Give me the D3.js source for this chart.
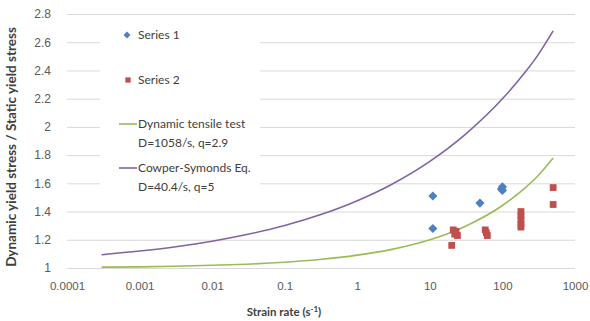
<!DOCTYPE html>
<html>
<head>
<meta charset="utf-8">
<script src="https://cdn.jsdelivr.net/npm/d3@7/dist/d3.min.js"></script>
<style>
  body { margin: 0; background: #fff; }
  svg { font-family: Lato, "Open Sans", sans-serif; }
</style>
</head>
<body>
<svg id="chart" width="590" height="321"></svg>
<script>
// data
const xTicks = [0.0001, 0.001, 0.01, 0.1, 1, 10, 100, 1000];
const xTickLabels = ["0.0001", "0.001", "0.01", "0.1", "1", "10", "100", "1000"];
const yTicks = [1, 1.2, 1.4, 1.6, 1.8, 2, 2.2, 2.4, 2.6, 2.8];

const series1X = [11, 11, 49, 97, 100, 100];
const series1Y = [1.51, 1.28, 1.46, 1.56, 1.575, 1.55];

const series2X = [20, 21, 22, 23, 24, 58, 60, 62, 180, 180, 180, 180, 180, 500, 500];
const series2Y = [1.16, 1.27, 1.24, 1.26, 1.23, 1.27, 1.25, 1.23, 1.40, 1.37, 1.34, 1.31, 1.29, 1.57, 1.45];

const curveX = [0.0003, 0.001, 0.003, 0.01, 0.03, 0.1, 0.3, 1, 3, 10, 30, 100, 200, 300, 500];
const tensileY = [1.006, 1.008, 1.012, 1.019, 1.027, 1.041, 1.06, 1.091, 1.132, 1.2, 1.293, 1.443, 1.563, 1.647, 1.78];
const cowperY = [1.094, 1.12, 1.149, 1.19, 1.237, 1.301, 1.375, 1.477, 1.594, 1.756, 1.942, 2.199, 2.38, 2.5, 2.68];

const colors = { s1: "#4f81bd", s2: "#c0504d", tensile: "#9bbb59", cowper: "#8064a2" };

const svg = d3.select("#chart");
const plotL = 67, plotR = 575, plotT = 14, plotB = 268;

const x = d3.scaleLog().domain([1e-4, 1e3]).range([plotL, plotR]);
const y = d3.scaleLinear().domain([1, 2.8]).range([plotB, plotT]);

// horizontal gridlines + y labels
const yAxis = svg.append("g")
  .attr("transform", `translate(${plotL},0)`)
  .call(d3.axisLeft(y).tickValues(yTicks).tickSize(-(plotR - plotL)).tickPadding(16)
    .tickFormat(d => String(+d.toFixed(1))));
yAxis.select(".domain").remove();
yAxis.selectAll("line").attr("stroke", "#d9d9d9").attr("stroke-width", 1);
yAxis.selectAll("text").attr("fill", "#595959").style("font-size", "12px");

// x labels
const xAxis = svg.append("g")
  .attr("transform", `translate(0,${plotB})`)
  .call(d3.axisBottom(x).tickValues(xTicks).tickSize(0).tickPadding(14)
    .tickFormat((d, i) => xTickLabels[i]));
xAxis.select(".domain").remove();
xAxis.selectAll("text").attr("fill", "#595959").style("font-size", "11.5px");

// axis titles
svg.append("text")
  .attr("x", 284).attr("y", 316)
  .attr("text-anchor", "middle")
  .attr("fill", "#404040")
  .style("font-size", "11.5px").style("font-weight", "bold")
  .html('Strain rate (s<tspan dy="-4" font-size="8px">-1</tspan><tspan dy="4">)</tspan>');

svg.append("text")
  .attr("transform", "translate(16,147) rotate(-90)")
  .attr("text-anchor", "middle")
  .attr("fill", "#404040")
  .style("font-size", "13.5px").style("font-weight", "bold")
  .text("Dynamic yield stress / Static yield stress");

// legend background hides gridlines
svg.append("rect")
  .attr("x", 100).attr("y", 18).attr("width", 160).attr("height", 180)
  .attr("fill", "#fff");

// curves
const line = d3.line()
  .x(d => x(d[0]))
  .y(d => y(d[1]))
  .curve(d3.curveMonotoneX);

svg.append("path")
  .datum(curveX.map((v, i) => [v, tensileY[i]]))
  .attr("d", line)
  .attr("fill", "none").attr("stroke", colors.tensile).attr("stroke-width", 1.6);

svg.append("path")
  .datum(curveX.map((v, i) => [v, cowperY[i]]))
  .attr("d", line)
  .attr("fill", "none").attr("stroke", colors.cowper).attr("stroke-width", 1.6);

// markers
const diamond = d3.symbol().type(d3.symbolSquare).size(42);
const square = d3.symbol().type(d3.symbolSquare).size(46);

svg.append("g").selectAll("path")
  .data(series2X.map((v, i) => [v, series2Y[i]]))
  .join("path")
  .attr("d", square)
  .attr("transform", d => `translate(${x(d[0])},${y(d[1])})`)
  .attr("fill", colors.s2);

svg.append("g").selectAll("path")
  .data(series1X.map((v, i) => [v, series1Y[i]]))
  .join("path")
  .attr("d", diamond)
  .attr("transform", d => `translate(${x(d[0])},${y(d[1])}) rotate(45)`)
  .attr("fill", colors.s1);

// legend
const legend = svg.append("g").style("font-size", "12px").attr("fill", "#404040");

legend.append("path").attr("d", d3.symbol().type(d3.symbolSquare).size(24))
  .attr("transform", "translate(127,35) rotate(45)").attr("fill", colors.s1);
legend.append("text").attr("x", 138).attr("y", 39).text("Series 1");

legend.append("path").attr("d", d3.symbol().type(d3.symbolSquare).size(28))
  .attr("transform", "translate(128,80)").attr("fill", colors.s2);
legend.append("text").attr("x", 138).attr("y", 84).text("Series 2");

legend.append("line").attr("x1", 119).attr("x2", 137).attr("y1", 124).attr("y2", 124)
  .attr("stroke", colors.tensile).attr("stroke-width", 1.6);
legend.append("text").attr("x", 138).attr("y", 128).text("Dynamic tensile test");
legend.append("text").attr("x", 138).attr("y", 147).text("D=1058/s, q=2.9");

legend.append("line").attr("x1", 119).attr("x2", 137).attr("y1", 168).attr("y2", 168)
  .attr("stroke", colors.cowper).attr("stroke-width", 1.6);
legend.append("text").attr("x", 138).attr("y", 172).text("Cowper-Symonds Eq.");
legend.append("text").attr("x", 138).attr("y", 191).text("D=40.4/s, q=5");
</script>
</body>
</html>
